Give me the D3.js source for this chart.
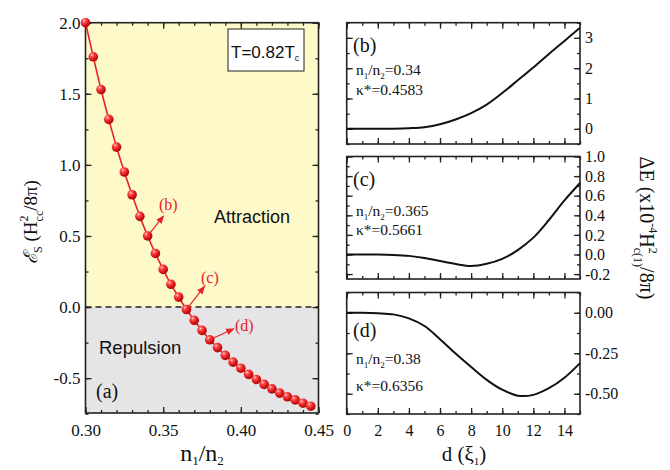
<!DOCTYPE html>
<html>
<head>
<meta charset="utf-8">
<script src="https://cdn.jsdelivr.net/npm/d3@7"></script>
<style>
body{margin:0;background:#fff}
svg text{font-family:"Liberation Serif","Times New Roman",serif;fill:#111}
svg text.sans{font-family:"Liberation Sans",Arial,sans-serif}
.axis path,.axis line{stroke:#222;stroke-width:1.3}
</style>
</head>
<body>
<svg id="chart" width="670" height="470"></svg>
<script>
// panel (a): surface energy vs n1/n2
var ratio = [0.300,0.305,0.310,0.315,0.320,0.325,0.330,0.335,0.340,0.345,0.350,0.355,0.360,0.365,0.370,
             0.375,0.380,0.385,0.390,0.395,0.400,0.405,0.410,0.415,0.420,0.425,0.430,0.435,0.440,0.445];
var energy = [2.00,1.76,1.53,1.32,1.125,0.95,0.79,0.638,0.50,0.377,0.265,0.16,0.07,-0.017,-0.093,
              -0.164,-0.23,-0.285,-0.34,-0.387,-0.43,-0.473,-0.509,-0.544,-0.575,-0.605,-0.631,-0.653,-0.676,-0.697];
var ratioTicks = [0.30,0.35,0.40,0.45];
var energyTicks = [-0.5,0.0,0.5,1.0,1.5,2.0];

// panels (b)-(d): interaction energy vs distance
var dist = [0,1,2,3,4,5,6,7,8,9,10,11,12,13,14,15];
var dEb = [0,0,0,0.005,0.02,0.055,0.15,0.31,0.52,0.8,1.18,1.6,2.02,2.47,2.9,3.33];
var dEc = [0,0,0,-0.004,-0.014,-0.035,-0.067,-0.097,-0.118,-0.095,-0.045,0.045,0.172,0.352,0.552,0.73];
var dEd = [0,0,-0.003,-0.01,-0.035,-0.082,-0.163,-0.252,-0.335,-0.414,-0.475,-0.512,-0.507,-0.466,-0.401,-0.311];
var distTicks = [0,2,4,6,8,10,12,14];

var svg = d3.select("#chart");
var red = "#e8202a";
var serif = '"Liberation Serif","Times New Roman",serif';

var defs = svg.append("defs");
var grad = defs.append("radialGradient").attr("id","ball")
    .attr("cx","35%").attr("cy","30%").attr("r","70%");
grad.append("stop").attr("offset","0%").attr("stop-color","#ffe0e0");
grad.append("stop").attr("offset","22%").attr("stop-color","#ff5a5a");
grad.append("stop").attr("offset","65%").attr("stop-color","#e01818");
grad.append("stop").attr("offset","100%").attr("stop-color","#a80808");
defs.append("marker").attr("id","arr").attr("viewBox","0 0 10 10")
    .attr("refX",9).attr("refY",5).attr("markerWidth",7).attr("markerHeight",7)
    .attr("orient","auto-start-reverse")
    .append("path").attr("d","M0,1 L10,5 L0,9 z").attr("fill",red);

// draws inward major/minor ticks on all four sides
function frame(g, x, y, xMajor, xMinor, yMajor, yMinor, opt){
    var w = x.range()[1] - x.range()[0];
    var h = y.range()[0] - y.range()[1];
    var x0 = x.range()[0], y0 = y.range()[1];
    function ax(gen, vals, size, fmt, tr, show, pad){
        var a = gen.tickValues(vals).tickSizeInner(-size).tickSizeOuter(0).tickPadding(pad || 5);
        if(!show) a.tickFormat("");
        else if(fmt) a.tickFormat(fmt);
        var s = g.append("g").attr("class","axis").attr("transform",tr).call(a);
        s.select(".domain").remove();
        return s;
    }
    var bl = ax(d3.axisBottom(x), xMajor, 6, opt.xFmt, "translate(0,"+(y0+h)+")", opt.xLabels, 11);
    ax(d3.axisBottom(x), xMinor, 3, null, "translate(0,"+(y0+h)+")", false);
    ax(d3.axisTop(x), xMajor, 6, null, "translate(0,"+y0+")", false);
    ax(d3.axisTop(x), xMinor, 3, null, "translate(0,"+y0+")", false);
    var ll = ax(d3.axisLeft(y), yMajor, 6, opt.yFmt, "translate("+x0+",0)", opt.yLeft);
    ax(d3.axisLeft(y), yMinor, 3, null, "translate("+x0+",0)", false);
    var rl = ax(d3.axisRight(y), yMajor, 6, opt.yFmt, "translate("+(x0+w)+",0)", opt.yRight);
    ax(d3.axisRight(y), yMinor, 3, null, "translate("+(x0+w)+",0)", false);
    [bl, ll, rl].forEach(function(s){
        s.attr("font-family", serif);
        s.selectAll("text").style("font-size", opt.fs + "px").style("font-family", serif).attr("fill","#111");
    });
    g.append("rect").attr("x",x0).attr("y",y0).attr("width",w).attr("height",h)
        .attr("fill","none").attr("stroke","#222").attr("stroke-width",1.6);
}

// ---------- panel (a) ----------
var xa = d3.scaleLinear().domain([0.30,0.45]).range([85.5,318.5]);
var ya = d3.scaleLinear().domain([-0.745,2.0]).range([413,22.7]);
var ga = svg.append("g");

ga.append("rect").attr("x",xa(0.30)).attr("y",ya(2.0))
    .attr("width",xa(0.45)-xa(0.30)).attr("height",ya(0)-ya(2.0)).attr("fill","#fdf9c9");
ga.append("rect").attr("x",xa(0.30)).attr("y",ya(0))
    .attr("width",xa(0.45)-xa(0.30)).attr("height",ya(-0.745)-ya(0)).attr("fill","#e5e5e7");
ga.append("line").attr("x1",xa(0.30)).attr("x2",xa(0.45)).attr("y1",ya(0)).attr("y2",ya(0))
    .attr("stroke","#222").attr("stroke-width",1.4).attr("stroke-dasharray","6,4");

frame(ga, xa, ya, ratioTicks, d3.range(0.30,0.4501,0.01), energyTicks, d3.range(-0.75,2.001,0.25),
    {xLabels:true, yLeft:true, yRight:false, fs:17, xFmt:d3.format(".2f"), yFmt:d3.format(".1f")});
ga.selectAll(".axis text").filter(function(){ return this.textContent === "\u22120.5"; }).text("-0.5");

var pts = ratio.map(function(r,i){ return [r, energy[i]]; });
ga.append("path").datum(pts)
    .attr("d", d3.line().x(function(d){return xa(d[0]);}).y(function(d){return ya(d[1]);}).curve(d3.curveMonotoneX))
    .attr("fill","none").attr("stroke",red).attr("stroke-width",1.6);
ga.selectAll("circle.pt").data(pts).enter().append("circle").attr("class","pt")
    .attr("cx",function(d){return xa(d[0]);}).attr("cy",function(d){return ya(d[1]);})
    .attr("r",4.8).attr("fill","url(#ball)");

// annotation arrows pointing to panels
var marks = [{i:8, lab:"(b)", dx:16, dy:-20, tx:159, ty:210},
             {i:13, lab:"(c)", dx:18, dy:-23, tx:201, ty:283},
             {i:16, lab:"(d)", dx:24, dy:-11, tx:235, ty:331}];
marks.forEach(function(m){
    var px = xa(ratio[m.i]), py = ya(energy[m.i]);
    ga.append("line").attr("x1",px).attr("y1",py).attr("x2",px+m.dx).attr("y2",py+m.dy)
        .attr("stroke",red).attr("stroke-width",1.2).attr("marker-end","url(#arr)");
    ga.append("text").attr("x",m.tx).attr("y",m.ty).text(m.lab)
        .style("font-size","16px").style("fill",red);
});

ga.append("rect").attr("x",228).attr("y",29).attr("width",76).attr("height",42)
    .attr("fill","#fff").attr("stroke","#222").attr("stroke-width",1);
var tt = ga.append("text").attr("class","sans").attr("x",231).attr("y",58).style("font-size","17px");
tt.append("tspan").text("T=0.82T");
tt.append("tspan").text("c").style("font-size","9px").attr("dy",3);

ga.append("text").attr("class","sans").attr("x",214).attr("y",223).text("Attraction").style("font-size","18px");
ga.append("text").attr("class","sans").attr("x",99).attr("y",354).text("Repulsion").style("font-size","18.5px");
ga.append("text").attr("x",96).attr("y",398).text("(a)").style("font-size","20px");

// y title of (a)
var yt = svg.append("text").attr("transform","translate(37,222) rotate(-90)")
    .attr("text-anchor","middle").style("font-size","19px");
yt.append("tspan").text("\u2130").style("font-style","italic");
yt.append("tspan").text("S").style("font-size","12px").attr("dy",5);
yt.append("tspan").text(" (H").attr("dy",-5);
yt.append("tspan").text("2").style("font-size","12px").attr("dy",-9);
yt.append("tspan").text("cc").style("font-size","12px").attr("dx",-6).attr("dy",15);
yt.append("tspan").text("/8\u03c0)").attr("dy",-6);

// x title of (a)
var xt = svg.append("text").attr("x",202).attr("y",461).attr("text-anchor","middle").style("font-size","24px");
xt.append("tspan").text("n");
xt.append("tspan").text("1").style("font-size","13px").attr("dy",4);
xt.append("tspan").text("/n").attr("dy",-4);
xt.append("tspan").text("2").style("font-size","13px").attr("dy",4);

// ---------- panels (b), (c), (d) ----------
var xr = d3.scaleLinear().domain([0,15]).range([346.7,580]);
var panels = [
    {vals:dEb, dom:[-0.5,3.5], top:22.7, bot:144, major:[0,1,2,3], minor:d3.range(-0.5,3.51,0.5),
     fmt:d3.format("d"), lab:"(b)", ratio:"0.34", kappa:"0.4583", ly:[52,75,95]},
    {vals:dEc, dom:[-0.25,1.0], top:156.5, bot:279, major:[-0.2,0,0.2,0.4,0.6,0.8,1.0], minor:d3.range(-0.2,1.001,0.1),
     fmt:d3.format(".1f"), lab:"(c)", ratio:"0.365", kappa:"0.5661", ly:[186,216,235]},
    {vals:dEd, dom:[-0.625,0.125], top:292.5, bot:414, major:[-0.5,-0.25,0], minor:d3.range(-0.625,0.126,0.125),
     fmt:d3.format(".2f"), lab:"(d)", ratio:"0.38", kappa:"0.6356", ly:[337,364,391]}
];
panels.forEach(function(p, k){
    var y = d3.scaleLinear().domain(p.dom).range([p.bot, p.top]);
    var g = svg.append("g");
    frame(g, xr, y, distTicks, dist, p.major, p.minor,
        {xLabels: k === 2, yLeft:false, yRight:true, fs:16, xFmt:d3.format("d"), yFmt:p.fmt});
    g.selectAll(".axis text").each(function(){
        this.textContent = this.textContent.replace("\u2212","-");
    });
    g.append("path").datum(p.vals)
        .attr("d", d3.line().x(function(d,i){return xr(dist[i]);}).y(function(d){return y(d);}).curve(d3.curveCatmullRom))
        .attr("fill","none").attr("stroke","#111").attr("stroke-width",2);
    g.append("text").attr("x",353).attr("y",p.ly[0]).text(p.lab).style("font-size","20px");
    var t = g.append("text").attr("x",356).attr("y",p.ly[1]).style("font-size","15.5px");
    t.append("tspan").text("n");
    t.append("tspan").text("1").style("font-size","9px").attr("dy",4);
    t.append("tspan").text("/n").attr("dy",-4);
    t.append("tspan").text("2").style("font-size","9px").attr("dy",4);
    t.append("tspan").text("=" + p.ratio).attr("dy",-4);
    g.append("text").attr("x",356).attr("y",p.ly[2]).text("\u03ba*=" + p.kappa).style("font-size","15.5px");
});

// x title of right panels
var dt = svg.append("text").attr("x",464).attr("y",461).attr("text-anchor","middle").style("font-size","21px");
dt.append("tspan").text("d (\u03be");
dt.append("tspan").text("1").style("font-size","11px").attr("dy",4);
dt.append("tspan").text(")").attr("dy",-4);

// shared y title on the right
var rt = svg.append("text").attr("transform","translate(640,228) rotate(90)")
    .attr("text-anchor","middle").style("font-size","20px");
rt.append("tspan").text("\u0394E (x10");
rt.append("tspan").text("-4").style("font-size","12px").attr("dy",-9);
rt.append("tspan").text("H").attr("dy",9);
rt.append("tspan").text("2").style("font-size","12px").attr("dy",-9);
rt.append("tspan").text("c(1)").style("font-size","12px").attr("dx",-6).attr("dy",15);
rt.append("tspan").text("/8\u03c0)").attr("dy",-6);
</script>
</body>
</html>
